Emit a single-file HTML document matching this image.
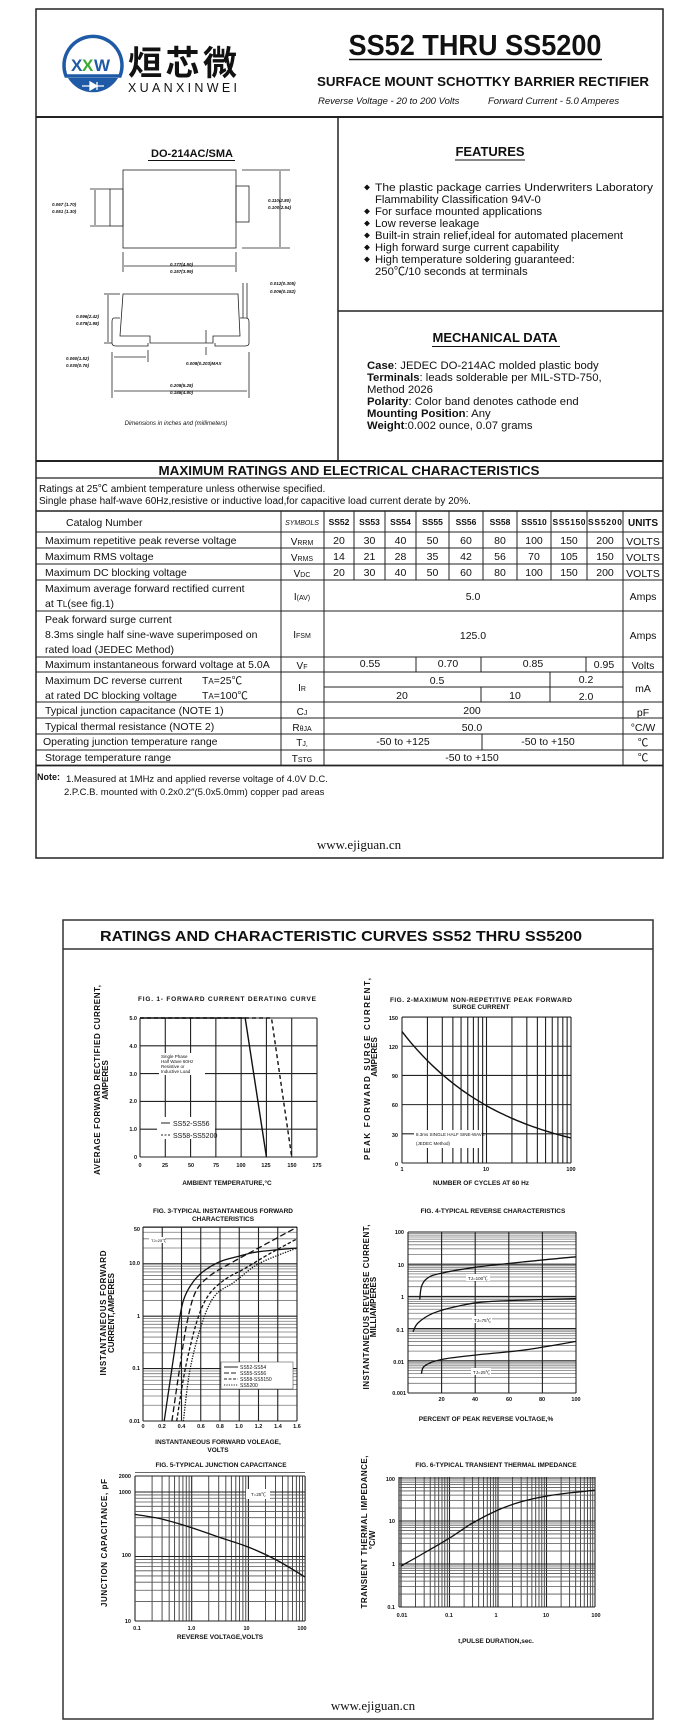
<!DOCTYPE html>
<html><head><meta charset="utf-8">
<style>
html,body{margin:0;padding:0;background:#fff;}
svg{display:block;}
text{font-family:"Liberation Sans","Noto Sans CJK SC",sans-serif;fill:#111;}
.b{font-weight:bold;}
.m{text-anchor:middle;}
.e{text-anchor:end;}
.t{font-size:10.5px;}
.tk{font-size:5.5px;font-weight:bold;}
.ct{font-size:6.5px;font-weight:bold;}
.al{font-size:8px;font-weight:bold;}
</style></head>
<body>
<svg id="s" width="694" height="1736" viewBox="0 0 694 1736" xmlns="http://www.w3.org/2000/svg">
<rect x="0" y="0" width="694" height="1736" fill="#fff"/>
<!-- PAGE 1 FRAME -->
<g stroke="#222" fill="none">
<rect x="36" y="9" width="627" height="849" stroke-width="1.5"/>
<line x1="36" y1="117" x2="663" y2="117" stroke-width="2"/>
<line x1="338" y1="117" x2="338" y2="461" stroke-width="1.5"/>
<line x1="338" y1="311" x2="663" y2="311" stroke-width="1.5"/>
<line x1="36" y1="461" x2="663" y2="461" stroke-width="2"/>
<line x1="36" y1="478" x2="663" y2="478" stroke-width="1.2"/>
<line x1="36" y1="511" x2="663" y2="511" stroke-width="1.5"/>
</g>
<!-- logo -->
<g>
<path d="M66,76 A29,29 0 1 1 120,76 Z" fill="none" stroke="#1f5aa6" stroke-width="3.5"/>
<path d="M68,78 L118,78 A29,29 0 0 1 68,78 Z" fill="#1f5aa6"/>
<path d="M82,86 L104,86 M90,82 L90,90 L97,86 Z M97,82 L97,90" stroke="#fff" stroke-width="1.3" fill="#fff"/>
<text x="71" y="71" style="font-size:17px;fill:#1f5aa6" class="b">X</text>
<text x="82" y="71" style="font-size:17px;fill:#3aaa35" class="b">X</text>
<text x="94" y="71" style="font-size:17px;fill:#1f5aa6" class="b" textLength="22">W</text>
</g>
<text x="128" y="75" style="font-size:34px;font-family:'Noto Sans CJK SC',sans-serif;font-weight:bold" textLength="109">烜芯微</text>
<text x="128" y="92" style="font-size:12.5px" textLength="109">XUANXINWEI</text>
<text x="475" y="55" class="b m" style="font-size:29px" textLength="253" lengthAdjust="spacingAndGlyphs">SS52 THRU SS5200</text>
<line x1="349" y1="59.5" x2="602" y2="59.5" stroke="#111" stroke-width="1.5"/>
<text x="483" y="86" class="b m" style="font-size:12.5px" textLength="332" lengthAdjust="spacingAndGlyphs">SURFACE MOUNT SCHOTTKY BARRIER RECTIFIER</text>
<text x="318" y="104" style="font-size:9.5px;font-style:italic">Reverse Voltage - 20 to 200 Volts</text>
<text x="488" y="104" style="font-size:9.5px;font-style:italic">Forward Current -  5.0 Amperes</text>

<!-- package drawing -->
<text x="192" y="157" class="b m" style="font-size:11px">DO-214AC/SMA</text>
<line x1="148" y1="160.5" x2="235" y2="160.5" stroke="#111"/>
<g stroke="#222" fill="none" stroke-width="0.8">
<rect x="123" y="170" width="113" height="78"/>
<rect x="110" y="189" width="13" height="37"/>
<rect x="236" y="186" width="13" height="36"/>
<line x1="90" y1="189" x2="110" y2="189"/><line x1="90" y1="226" x2="110" y2="226"/>
<line x1="95" y1="190" x2="95" y2="225"/>
<line x1="242" y1="170" x2="290" y2="170"/><line x1="242" y1="248" x2="290" y2="248"/>
<line x1="280" y1="171" x2="280" y2="247"/>
<line x1="123" y1="252" x2="123" y2="272"/><line x1="236" y1="252" x2="236" y2="272"/>
<line x1="124" y1="266" x2="235" y2="266"/>
<path d="M123,294 L238,294 L240,336 L213,336 L213,343 L150,343 L150,336 L120,336 Z"/>
<path d="M120,318 L114,318 Q112,318 112,322 L112,343 Q112,346 116,346 L148,346 L148,343 M240,318 L246,318 Q249,318 249,322 L249,343 Q249,346 245,346 L215,346 L215,343"/>
<line x1="243" y1="283" x2="243" y2="318"/><line x1="247" y1="283" x2="247" y2="318"/>
<line x1="104" y1="294" x2="120" y2="294"/><line x1="104" y1="343" x2="112" y2="343"/>
<line x1="108" y1="295" x2="108" y2="342"/>
<line x1="112" y1="352" x2="112" y2="398"/><line x1="148" y1="350" x2="148" y2="362"/>
<line x1="249" y1="352" x2="249" y2="398"/>
<line x1="114" y1="357" x2="146" y2="357"/>
<line x1="114" y1="391" x2="247" y2="391"/>
<line x1="206" y1="330" x2="206" y2="343"/><line x1="206" y1="347" x2="206" y2="355"/>
</g>
<g style="font-size:4.5px;font-style:italic" class="b">
<text x="52" y="206">0.067 (1.70)</text><text x="52" y="213">0.051 (1.30)</text>
<text x="268" y="202">0.110(2.80)</text><text x="268" y="209">0.100(2.54)</text>
<text x="170" y="266">0.177(4.50)</text><text x="170" y="273">0.157(3.99)</text>
<text x="270" y="285">0.012(0.305)</text><text x="270" y="293">0.006(0.152)</text>
<text x="76" y="318">0.096(2.42)</text><text x="76" y="325">0.078(1.98)</text>
<text x="66" y="360">0.060(1.52)</text><text x="66" y="367">0.030(0.76)</text>
<text x="186" y="365">0.008(0.203)MAX</text>
<text x="170" y="387">0.208(5.28)</text><text x="170" y="394">0.188(4.80)</text>
</g>
<text x="176" y="425" class="m" style="font-size:6px;font-style:italic">Dimensions in inches and (millimeters)</text>

<!-- features -->
<text x="490" y="156" class="b m" style="font-size:13px">FEATURES</text>
<line x1="455" y1="160" x2="525" y2="160" stroke="#111"/>
<g style="font-size:11.3px">
<text x="364" y="190" style="font-size:6px">◆</text><text x="375" y="191" textLength="278" lengthAdjust="spacingAndGlyphs">The plastic package carries Underwriters Laboratory</text>
<text x="375" y="203">Flammability Classification 94V-0</text>
<text x="364" y="214" style="font-size:6px">◆</text><text x="375" y="215">For surface mounted applications</text>
<text x="364" y="226" style="font-size:6px">◆</text><text x="375" y="227">Low reverse leakage</text>
<text x="364" y="238" style="font-size:6px">◆</text><text x="375" y="239">Built-in strain relief,ideal for automated placement</text>
<text x="364" y="250" style="font-size:6px">◆</text><text x="375" y="251">High forward surge current capability</text>
<text x="364" y="262" style="font-size:6px">◆</text><text x="375" y="263">High temperature soldering guaranteed:</text>
<text x="375" y="275">250℃/10 seconds at terminals</text>
</g>
<text x="495" y="342" class="b m" style="font-size:13px">MECHANICAL DATA</text>
<line x1="432" y1="346.5" x2="560" y2="346.5" stroke="#111"/>
<g style="font-size:11.3px">
<text x="367" y="369"><tspan class="b">Case</tspan>: JEDEC DO-214AC molded plastic body</text>
<text x="367" y="381"><tspan class="b">Terminals</tspan>: leads solderable per MIL-STD-750,</text>
<text x="367" y="393">Method 2026</text>
<text x="367" y="405"><tspan class="b">Polarity</tspan>: Color band denotes cathode end</text>
<text x="367" y="417"><tspan class="b">Mounting Position</tspan>: Any</text>
<text x="367" y="429"><tspan class="b">Weight</tspan>:0.002 ounce, 0.07 grams</text>
</g>

<!-- ratings table -->
<text x="349" y="475" class="b m" style="font-size:12.5px" textLength="381" lengthAdjust="spacingAndGlyphs">MAXIMUM RATINGS AND ELECTRICAL CHARACTERISTICS</text>
<text x="39" y="492" style="font-size:10px">Ratings at 25℃ ambient temperature unless otherwise specified.</text>
<text x="39" y="504" style="font-size:10px">Single phase half-wave 60Hz,resistive or inductive load,for capacitive load current derate by 20%.</text>
<g stroke="#222" stroke-width="1" fill="none">
<line x1="36" y1="532" x2="663" y2="532"/>
<line x1="36" y1="548" x2="663" y2="548"/>
<line x1="36" y1="564" x2="663" y2="564"/>
<line x1="36" y1="580" x2="663" y2="580"/>
<line x1="36" y1="611" x2="663" y2="611"/>
<line x1="36" y1="657" x2="663" y2="657"/>
<line x1="36" y1="672" x2="663" y2="672"/>
<line x1="36" y1="702" x2="663" y2="702"/>
<line x1="36" y1="718" x2="663" y2="718"/>
<line x1="36" y1="734" x2="663" y2="734"/>
<line x1="36" y1="750" x2="663" y2="750"/>
<line x1="36" y1="765.5" x2="663" y2="765.5" stroke-width="1.8"/>
<line x1="281" y1="511" x2="281" y2="765"/>
<line x1="324" y1="511" x2="324" y2="765"/>
<line x1="623" y1="511" x2="623" y2="765"/>
<line x1="354" y1="511" x2="354" y2="580"/>
<line x1="385" y1="511" x2="385" y2="580"/>
<line x1="416" y1="511" x2="416" y2="580"/>
<line x1="449" y1="511" x2="449" y2="580"/>
<line x1="483" y1="511" x2="483" y2="580"/>
<line x1="517" y1="511" x2="517" y2="580"/>
<line x1="551" y1="511" x2="551" y2="580"/>
<line x1="587" y1="511" x2="587" y2="580"/>
<line x1="416" y1="657" x2="416" y2="672"/>
<line x1="481" y1="657" x2="481" y2="672"/>
<line x1="586" y1="657" x2="586" y2="672"/>
<line x1="324" y1="687" x2="623" y2="687"/>
<line x1="550" y1="672" x2="550" y2="702"/>
<line x1="481" y1="687" x2="481" y2="702"/>
<line x1="482" y1="734" x2="482" y2="750"/>
</g>
<g class="t">
<text x="66" y="526" style="font-size:10.5px">Catalog    Number</text>
<text x="302" y="525" class="m" style="font-size:7px;font-style:italic">SYMBOLS</text>
<g class="b m" style="font-size:8.5px">
<text x="339" y="525">SS52</text><text x="369.5" y="525">SS53</text><text x="400.5" y="525">SS54</text><text x="432.5" y="525">SS55</text><text x="466" y="525">SS56</text><text x="500" y="525">SS58</text><text x="534" y="525">SS510</text><text x="569" y="525" textLength="33">SS5150</text><text x="605" y="525" textLength="34">SS5200</text>
<text x="643" y="526" style="font-size:10px">UNITS</text>
</g>
<g style="font-size:10.5px">
<text x="45" y="544">Maximum repetitive peak reverse voltage</text>
<text x="45" y="560">Maximum RMS voltage</text>
<text x="45" y="576">Maximum DC blocking voltage</text>
<text x="45" y="592">Maximum average forward rectified current</text>
<text x="45" y="607">at T<tspan style="font-size:8px">L</tspan>(see fig.1)</text>
<text x="45" y="623">Peak forward surge current</text>
<text x="45" y="638">8.3ms single half sine-wave superimposed on</text>
<text x="45" y="653">rated load (JEDEC Method)</text>
<text x="45" y="668">Maximum instantaneous forward voltage at 5.0A</text>
<text x="45" y="684">Maximum DC reverse current</text><text x="202" y="684">T<tspan style="font-size:8px">A</tspan>=25℃</text>
<text x="45" y="699">at rated DC blocking voltage</text><text x="202" y="699">T<tspan style="font-size:8px">A</tspan>=100℃</text>
<text x="45" y="714">Typical junction capacitance (NOTE 1)</text>
<text x="45" y="730">Typical thermal resistance (NOTE 2)</text>
<text x="43" y="745">Operating junction temperature range</text>
<text x="45" y="761">Storage temperature range</text>
</g>
<g class="m" style="font-size:10px">
<text x="302" y="545">V<tspan style="font-size:7px">RRM</tspan></text>
<text x="302" y="561">V<tspan style="font-size:7px">RMS</tspan></text>
<text x="302" y="577">V<tspan style="font-size:7px">DC</tspan></text>
<text x="302" y="600">I<tspan style="font-size:7px">(AV)</tspan></text>
<text x="302" y="638">I<tspan style="font-size:7px">FSM</tspan></text>
<text x="302" y="669">V<tspan style="font-size:7px">F</tspan></text>
<text x="302" y="691">I<tspan style="font-size:7px">R</tspan></text>
<text x="302" y="715">C<tspan style="font-size:7px">J</tspan></text>
<text x="302" y="731">R<tspan style="font-size:7px">θJA</tspan></text>
<text x="302" y="746">T<tspan style="font-size:7px">J,</tspan></text>
<text x="302" y="762">T<tspan style="font-size:7px">STG</tspan></text>
</g>
<g class="m" style="font-size:10.5px">
<text x="339" y="544">20</text><text x="369.5" y="544">30</text><text x="400.5" y="544">40</text><text x="432.5" y="544">50</text><text x="466" y="544">60</text><text x="500" y="544">80</text><text x="534" y="544">100</text><text x="569" y="544">150</text><text x="605" y="544">200</text>
<text x="339" y="560">14</text><text x="369.5" y="560">21</text><text x="400.5" y="560">28</text><text x="432.5" y="560">35</text><text x="466" y="560">42</text><text x="500" y="560">56</text><text x="534" y="560">70</text><text x="569" y="560">105</text><text x="605" y="560">150</text>
<text x="339" y="576">20</text><text x="369.5" y="576">30</text><text x="400.5" y="576">40</text><text x="432.5" y="576">50</text><text x="466" y="576">60</text><text x="500" y="576">80</text><text x="534" y="576">100</text><text x="569" y="576">150</text><text x="605" y="576">200</text>
<text x="473" y="600">5.0</text>
<text x="473" y="639">125.0</text>
<text x="370" y="667">0.55</text><text x="448" y="667">0.70</text><text x="533" y="667">0.85</text><text x="604" y="668">0.95</text>
<text x="437" y="684">0.5</text><text x="586" y="683">0.2</text>
<text x="402" y="699">20</text><text x="515" y="699">10</text><text x="586" y="700">2.0</text>
<text x="472" y="714">200</text>
<text x="472" y="731">50.0</text>
<text x="403" y="745">-50 to +125</text><text x="548" y="745">-50 to +150</text>
<text x="472" y="761">-50 to +150</text>
<text x="643" y="600">Amps</text>
<text x="643" y="639">Amps</text>
<text x="643" y="669">Volts</text>
<text x="643" y="692">mA</text>
<text x="643" y="716">pF</text>
<text x="643" y="731">°C/W</text>
<text x="643" y="746">℃</text>
<text x="643" y="761">℃</text>
<text x="643" y="545">VOLTS</text><text x="643" y="561">VOLTS</text><text x="643" y="577">VOLTS</text>
</g>
</g>
<text x="37" y="780" class="b" style="font-size:9px">Note:</text>
<text x="66" y="782" style="font-size:9.5px">1.Measured at 1MHz and applied reverse voltage of 4.0V D.C.</text>
<text x="64" y="795" style="font-size:9.5px">2.P.C.B. mounted with 0.2x0.2″(5.0x5.0mm) copper pad areas</text>
<text x="359" y="849" class="m" style="font-size:13px;font-family:'Liberation Serif',serif">www.ejiguan.cn</text>

<!-- PAGE 2 -->
<rect x="63" y="920" width="590" height="799" fill="none" stroke="#333" stroke-width="1.5"/>
<line x1="63" y1="949" x2="653" y2="949" stroke="#333" stroke-width="1.5"/>
<text x="341" y="941" class="b m" style="font-size:15px" textLength="482" lengthAdjust="spacingAndGlyphs">RATINGS AND CHARACTERISTIC CURVES SS52 THRU SS5200</text>

<g id="charts"></g>

<!-- Fig 1 labels -->
<text x="227" y="1001" class="ct m" textLength="178">FIG. 1- FORWARD CURRENT DERATING CURVE</text>
<g class="tk e"><text x="137" y="1020">5.0</text><text x="137" y="1048">4.0</text><text x="137" y="1076">3.0</text><text x="137" y="1103">2.0</text><text x="137" y="1131">1.0</text><text x="137" y="1159">0</text></g>
<g class="tk m"><text x="140" y="1167">0</text><text x="165" y="1167">25</text><text x="191" y="1167">50</text><text x="216" y="1167">75</text><text x="241" y="1167">100</text><text x="266" y="1167">125</text><text x="292" y="1167">150</text><text x="317" y="1167">175</text></g>
<text x="227" y="1185" class="ct m">AMBIENT TEMPERATURE,°C</text>
<text transform="translate(100,1080) rotate(-90)" class="al m" textLength="190">AVERAGE  FORWARD RECTIFIED CURRENT,</text>
<text transform="translate(108,1080) rotate(-90)" class="al m">AMPERES</text>
<rect x="159" y="1053" width="46" height="22" fill="#fff"/>
<g style="font-size:4.5px"><text x="161" y="1058">Single Phase</text><text x="161" y="1063">Half Wave 60Hz</text><text x="161" y="1068">Resistive or</text><text x="161" y="1073">Inductive Load</text></g>
<rect x="157" y="1117" width="58" height="22" fill="#fff"/>
<line x1="161" y1="1123" x2="170" y2="1123" stroke="#222"/><line x1="161" y1="1135" x2="170" y2="1135" stroke="#222" stroke-dasharray="2,1.5"/>
<text x="173" y="1126" style="font-size:7px">SS52-SS56</text><text x="173" y="1138" style="font-size:7px">SS58-SS5200</text>

<!-- Fig 2 labels -->
<text x="481" y="1002" class="ct m" textLength="182">FIG. 2-MAXIMUM NON-REPETITIVE PEAK FORWARD</text>
<text x="481" y="1009" class="ct m">SURGE CURRENT</text>
<g class="tk e"><text x="398" y="1020">150</text><text x="398" y="1049">120</text><text x="398" y="1078">90</text><text x="398" y="1107">60</text><text x="398" y="1137">30</text><text x="398" y="1166">0</text></g>
<g class="tk m"><text x="402" y="1171">1</text><text x="486" y="1171">10</text><text x="571" y="1171">100</text></g>
<text x="481" y="1185" class="ct m">NUMBER OF CYCLES AT 60 Hz</text>
<text transform="translate(370,1069) rotate(-90)" class="al m" textLength="182">PEAK    FORWARD SURGE CURRENT,</text>
<text transform="translate(377,1057) rotate(-90)" class="al m">AMPERES</text>
<rect x="414" y="1130" width="68" height="18" fill="#fff"/>
<text x="416" y="1136" style="font-size:4.5px">8.3ms SINGLE HALF SINE-WAVE</text>
<text x="416" y="1145" style="font-size:4.5px">(JEDEC Method)</text>

<!-- Fig 3 labels -->
<text x="223" y="1213" class="ct m">FIG. 3-TYPICAL INSTANTANEOUS FORWARD</text>
<text x="223" y="1221" class="ct m">CHARACTERISTICS</text>
<g class="tk e"><text x="140" y="1231">50</text><text x="140" y="1265">10.0</text><text x="140" y="1318">1</text><text x="140" y="1370">0.1</text><text x="140" y="1423">0.01</text></g>
<g class="tk m"><text x="143" y="1428">0</text><text x="162" y="1428">0.2</text><text x="181.5" y="1428">0.4</text><text x="201" y="1428">0.6</text><text x="220" y="1428">0.8</text><text x="239" y="1428">1.0</text><text x="258.5" y="1428">1.2</text><text x="278" y="1428">1.4</text><text x="297" y="1428">1.6</text></g>
<text x="218" y="1444" class="ct m">INSTANTANEOUS FORWARD VOLEAGE,</text>
<text x="218" y="1452" class="ct m">VOLTS</text>
<text transform="translate(106,1313) rotate(-90)" class="al m" textLength="125">INSTANTANEOUS FORWARD</text>
<text transform="translate(114,1313) rotate(-90)" class="al m">CURRENT,AMPERES</text>
<rect x="149" y="1237" width="16" height="6" fill="#fff"/>
<text x="151" y="1242" style="font-size:4px">TJ=25℃</text>
<rect x="221" y="1362" width="72" height="27" fill="#fff" stroke="#333" stroke-width="0.5"/>
<line x1="224" y1="1367" x2="238" y2="1367" stroke="#222"/>
<line x1="224" y1="1373" x2="238" y2="1373" stroke="#222" stroke-dasharray="5,2"/>
<line x1="224" y1="1379" x2="238" y2="1379" stroke="#222" stroke-dasharray="3,1.5"/>
<line x1="224" y1="1385" x2="238" y2="1385" stroke="#222" stroke-dasharray="1.2,1.2"/>
<g style="font-size:5px"><text x="240" y="1369">SS52-SS54</text><text x="240" y="1375">SS55-SS56</text><text x="240" y="1381">SS58-SS5150</text><text x="240" y="1387">SS5200</text></g>

<!-- Fig 4 labels -->
<text x="493" y="1213" class="ct m">FIG. 4-TYPICAL REVERSE CHARACTERISTICS</text>
<g class="tk e"><text x="404" y="1234">100</text><text x="404" y="1267">10</text><text x="404" y="1299">1</text><text x="404" y="1332">0.1</text><text x="404" y="1364">0.01</text><text x="406" y="1395">0.001</text></g>
<g class="tk m"><text x="441.6" y="1401">20</text><text x="475" y="1401">40</text><text x="509" y="1401">60</text><text x="542" y="1401">80</text><text x="576" y="1401">100</text></g>
<text x="486" y="1421" class="ct m">PERCENT OF PEAK REVERSE VOLTAGE,%</text>
<text transform="translate(369,1307) rotate(-90)" class="al m" textLength="165">INSTANTANEOUS REVERSE CURRENT,</text>
<text transform="translate(376,1307) rotate(-90)" class="al m">MILLIAMPERES</text>
<rect x="466" y="1274" width="24" height="7" fill="#fff"/><text x="468" y="1280" style="font-size:4.5px">TJ=100℃</text>
<rect x="472" y="1316" width="20" height="7" fill="#fff"/><text x="474" y="1322" style="font-size:4.5px">TJ=75℃</text>
<rect x="471" y="1368" width="20" height="7" fill="#fff"/><text x="473" y="1374" style="font-size:4.5px">TJ=25℃</text>

<!-- Fig 5 labels -->
<text x="221" y="1467" class="ct m">FIG. 5-TYPICAL JUNCTION CAPACITANCE</text>
<g class="tk e"><text x="131" y="1478">2000</text><text x="131" y="1494">1000</text><text x="131" y="1557">100</text><text x="131" y="1623">10</text></g>
<g class="tk m"><text x="137" y="1630">0.1</text><text x="191.5" y="1630">1.0</text><text x="246.5" y="1630">10</text><text x="302" y="1630">100</text></g>
<text x="220" y="1639" class="ct m">REVERSE VOLTAGE,VOLTS</text>
<text transform="translate(107,1543) rotate(-90)" class="al m" textLength="128">JUNCTION CAPACITANCE, pF</text>
<rect x="246" y="1489" width="24" height="10" fill="#fff"/><text x="251" y="1496" style="font-size:4.5px">T=25℃</text>

<!-- Fig 6 labels -->
<text x="496" y="1467" class="ct m">FIG. 6-TYPICAL TRANSIENT THERMAL IMPEDANCE</text>
<g class="tk e"><text x="395" y="1481">100</text><text x="395" y="1523">10</text><text x="395" y="1566">1</text><text x="395" y="1609">0.1</text></g>
<g class="tk m"><text x="402" y="1617">0.01</text><text x="449" y="1617">0.1</text><text x="496" y="1617">1</text><text x="546" y="1617">10</text><text x="596" y="1617">100</text></g>
<text x="496" y="1643" class="ct m">t,PULSE DURATION,sec.</text>
<text transform="translate(367,1532) rotate(-90)" class="al m" textLength="153">TRANSIENT THERMAL IMPEDANCE,</text>
<text transform="translate(375,1540) rotate(-90)" class="al m">°C/W</text>

<text x="373" y="1710" class="m" style="font-size:13px;font-family:'Liberation Serif',serif">www.ejiguan.cn</text>
</svg>
<script>
(function(){
var NS='http://www.w3.org/2000/svg',G=document.getElementById('charts');
var labels=[];
function el(n,a){var e=document.createElementNS(NS,n);for(var k in a)e.setAttribute(k,a[k]);G.appendChild(e);return e;}
function L(x1,y1,x2,y2,w,c){el('line',{x1:x1,y1:y1,x2:x2,y2:y2,stroke:c||'#333','stroke-width':w||0.8});}
function sm(p){var d='M'+p[0][0].toFixed(1)+','+p[0][1].toFixed(1);for(var i=0;i<p.length-1;i++){var p0=p[i-1]||p[i],p1=p[i],p2=p[i+1],p3=p[i+2]||p2;d+=' C'+(p1[0]+(p2[0]-p0[0])/6).toFixed(1)+','+(p1[1]+(p2[1]-p0[1])/6).toFixed(1)+' '+(p2[0]-(p3[0]-p1[0])/6).toFixed(1)+','+(p2[1]-(p3[1]-p1[1])/6).toFixed(1)+' '+p2[0].toFixed(1)+','+p2[1].toFixed(1);}return d;}
function P(d,dash,w){var a={d:d,fill:'none',stroke:'#111','stroke-width':w||1.4};if(dash)a['stroke-dasharray']=dash;el('path',a);}
var lg=Math.log10;
// Fig1
var X1=function(v){return 140+v*1.0114},Y1=function(v){return 1157-v*27.8};
for(var v=0;v<=175;v+=25)L(X1(v),1018,X1(v),1157,1.1,'#222');
for(v=0;v<=5;v++)L(140,Y1(v),317,Y1(v),1.1,'#222');
P('M'+X1(0)+','+Y1(5)+' L'+X1(104)+','+Y1(5)+' L'+X1(125)+','+Y1(0));
P('M'+X1(0)+','+Y1(5)+' L'+X1(130)+','+Y1(5)+' L'+X1(150)+','+Y1(0),'4,3');
// Fig2
var X2=function(v){return 402+lg(v)*84.5},Y2=function(v){return 1163-v*0.973};
for(var d=1;d<=10;d*=10)for(var k=1;k<=9;k++){if(d*k>100)break;L(X2(d*k),1017,X2(d*k),1163,1.1,'#222');}
L(X2(100),1017,X2(100),1163,1.1,'#222');
for(v=0;v<=150;v+=30)L(402,Y2(v),571,Y2(v),1.1,'#222');
var pts=[];for(var e=0;e<=2.001;e+=0.1){var n=Math.pow(10,e);pts.push([X2(n),Y2(135*Math.pow(n,-0.36))]);}P(sm(pts));
// Fig3
var X3=function(v){return 143+v*96.25},Y3=function(v){return 1421-(lg(v)+2)*52.4};
for(var d=0.01;d<=10.01;d*=10)for(k=1;k<=9;k++){var q=d*k;if(q>50.1)break;L(143,Y3(q),297,Y3(q),k==1?1.1:0.8,k==1?'#222':'#777');}
L(143,Y3(50),297,Y3(50),1.1,'#222');L(143,1227,297,1227,1,'#222');
for(v=0;v<=1.601;v+=0.2)L(X3(v),1227,X3(v),1421,1.1,'#222');
function crv(a,dash,X,Y){var p=a.map(function(t){return[X(t[0]),Y(t[1])]});P(sm(p),dash,1.3);}
crv([[0.22,0.01],[0.3,0.1],[0.37,0.7],[0.42,2],[0.5,4],[0.62,7],[0.8,11],[1.0,14],[1.2,17],[1.6,20]],null,X3,Y3);
crv([[0.3,0.01],[0.38,0.1],[0.46,0.8],[0.55,3],[0.7,6],[0.9,10],[1.2,20],[1.6,50]],'6,3',X3,Y3);
crv([[0.35,0.01],[0.44,0.1],[0.56,0.8],[0.68,2.5],[0.85,5],[1.05,8],[1.3,15],[1.6,30]],'3.5,2',X3,Y3);
crv([[0.42,0.01],[0.49,0.1],[0.62,0.8],[0.75,2.5],[0.95,4.5],[1.2,10],[1.6,20]],'1.3,1.3',X3,Y3);
// Fig4
var X4=function(v){return 408+v*1.68},Y4=function(v){return 1393-(lg(v)+3)*32.2};
for(d=0.001;d<=10.01;d*=10)for(k=1;k<=9;k++){q=d*k;L(408,Y4(q),576,Y4(q),k==1?1.1:0.8,k==1?'#222':'#777');}
L(408,Y4(100),576,Y4(100),1.1,'#222');
for(v=0;v<=100;v+=20)L(X4(v),1232,X4(v),1393,1.1,'#222');
crv([[7,0.8],[8,2],[11,3.5],[18,5],[40,8],[70,12],[100,17]],null,X4,Y4);
crv([[3,0.08],[6,0.15],[15,0.3],[30,0.5],[50,0.7],[100,0.85]],null,X4,Y4);
crv([[8,0.004],[10,0.007],[20,0.011],[40,0.015],[70,0.022],[100,0.04]],null,X4,Y4);
// Fig5
var X5=function(v){return 135+(lg(v)+1)*56.7},Y5=function(v){return 1621-(lg(v)-1)*64.5};
for(d=0.1;d<=10.01;d*=10)for(k=1;k<=9;k++){q=d*k;L(X5(q),1476,X5(q),1621,k==1?1.1:0.8,'#222');}
L(X5(100),1476,X5(100),1621,1.1,'#222');
for(d=10;d<=1000.1;d*=10)for(k=1;k<=9;k++){q=d*k;if(q>2000.1)break;L(135,Y5(q),305,Y5(q),k==1?1.1:0.8,k==1?'#222':'#555');}
L(135,1476,305,1476,1.1,'#222');
crv([[0.1,450],[0.3,380],[1,280],[3,200],[10,140],[30,90],[100,48]],null,X5,Y5);
// Fig6
var X6=function(v){return 401+(lg(v)+2)*48.5},Y6=function(v){return 1607-(lg(v)+1)*43};
for(d=0.01;d<=10.01;d*=10)for(k=1;k<=9;k++){q=d*k;L(X6(q),1477,X6(q),1607,k==1?1.1:0.8,'#222');}
L(X6(100),1477,X6(100),1607,1.1,'#222');L(399,1477,399,1607,1.1,'#222');
for(d=0.1;d<=10.01;d*=10)for(k=1;k<=9;k++){q=d*k;L(399,Y6(q),595,Y6(q),k==1?1.1:0.8,k==1?'#222':'#555');}
L(399,Y6(100),595,Y6(100),1.1,'#222');
crv([[0.01,0.9],[0.03,1.8],[0.1,4],[0.3,9],[1,18],[3,28],[10,38],[30,45],[100,52]],null,X6,Y6);
// move charts group behind labels
var s=document.getElementById('s');s.insertBefore(G,s.children[1]);
})();
</script>
</body></html>
